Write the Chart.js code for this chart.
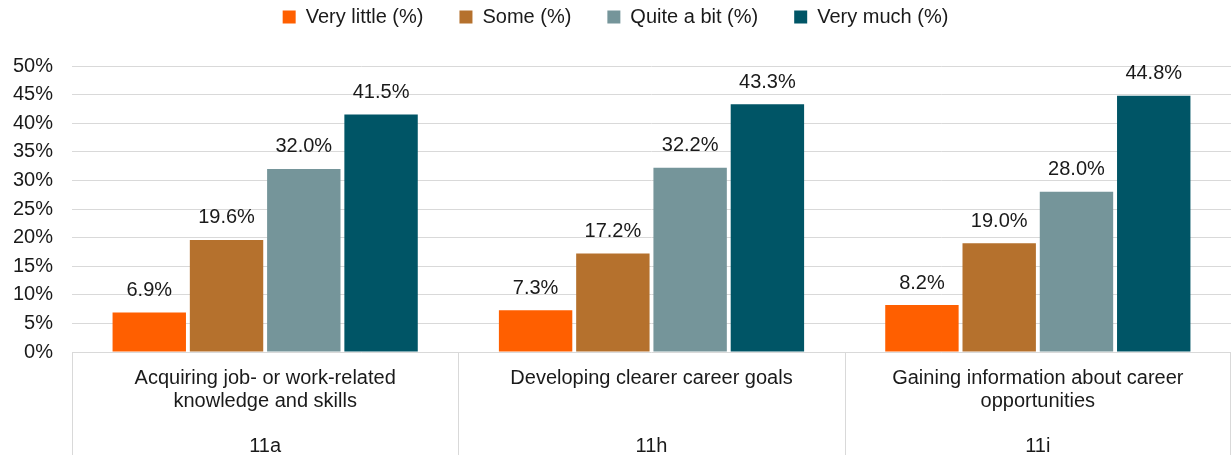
<!DOCTYPE html>
<html>
<head>
<meta charset="UTF-8">
<title>Career outcomes</title>
<script src="https://cdn.jsdelivr.net/npm/chart.js@4.4.1/dist/chart.umd.min.js"></script>
<style>
  body { margin: 0; background: #fff; }
  #wrap { width: 1231px; height: 455px; }
</style>
</head>
<body>
<div id="wrap"><canvas id="myChart"></canvas></div>

<script>
	// categories and codes under them
	const categories = [
		["Acquiring job- or work-related", "knowledge and skills"],
		["Developing clearer career goals"],
		["Gaining information about career", "opportunities"]
	];
	const codes = ["11a", "11h", "11i"];

	// series values (%)
	const veryLittle = [6.9, 7.3, 8.2];
	const some = [19.6, 17.2, 19.0];
	const quiteABit = [32.0, 32.2, 28.0];
	const veryMuch = [41.5, 43.3, 44.8];

	const seriesNames = ["Very little (%)", "Some (%)", "Quite a bit (%)", "Very much (%)"];
	const seriesColors = ["#FF5F00", "#B5712D", "#75959A", "#005566"];
	const yTicks = [0, 5, 10, 15, 20, 25, 30, 35, 40, 45, 50];

	const txt = "#1a1a1a";
	const grid = "#d9d9d9";
	Chart.defaults.font.family = "'Liberation Sans', Arial, sans-serif";
	Chart.defaults.font.size = 20;
	Chart.defaults.color = txt;

	// value labels above bars
	const barLabels = {
		id: 'barLabels',
		afterDatasetsDraw(chart) {
			const ctx = chart.ctx;
			ctx.save();
			ctx.font = "20px 'Liberation Sans', Arial, sans-serif";
			ctx.fillStyle = txt;
			ctx.textAlign = 'center';
			ctx.textBaseline = 'middle';
			chart.data.datasets.forEach((ds, i) => {
				chart.getDatasetMeta(i).data.forEach((bar, j) => {
					ctx.fillText(ds.data[j].toFixed(1) + '%', bar.x, bar.y - 22);
				});
			});
			ctx.restore();
		}
	};

	// vertical separators between category groups, below the plot
	const separators = {
		id: 'separators',
		afterDraw(chart) {
			const ctx = chart.ctx;
			const xs = chart.scales.x;
			const area = chart.chartArea;
			const pts = [area.left];
			for (let i = 1; i < categories.length; i++) {
				pts.push((xs.getPixelForValue(i - 1) + xs.getPixelForValue(i)) / 2);
			}
			pts.push(area.right - 1);
			ctx.save();
			ctx.strokeStyle = grid;
			ctx.lineWidth = 1;
			pts.forEach(p => {
				const x = Math.round(p) + 0.5;
				ctx.beginPath();
				ctx.moveTo(x, area.bottom);
				ctx.lineTo(x, chart.height);
				ctx.stroke();
			});
			ctx.restore();
		}
	};

	// keep legend item spacing wide but leave room before the plot
	const legendBox = {
		id: 'legendBox',
		afterInit(chart) {
			const fit = chart.legend.fit;
			chart.legend.fit = function () {
				fit.call(this);
				this.height = 95;
			};
		}
	};

	new Chart("myChart", {
	  type: "bar",
	  data: {
	    labels: categories,
	    datasets: [veryLittle, some, quiteABit, veryMuch].map((d, i) => ({
	      label: seriesNames[i],
	      data: d,
	      backgroundColor: seriesColors[i],
	      categoryPercentage: 0.8,
	      barPercentage: 0.95
	    }))
	  },
	  options: {
	    responsive: true,
	    maintainAspectRatio: false,
	    animation: false,
	    layout: { padding: { top: -29, left: 0, right: 0, bottom: 0 } },
	    plugins: {
	      legend: {
	        position: 'top',
	        labels: { boxWidth: 13, boxHeight: 13, padding: 36, color: txt }
	      },
	      tooltip: { enabled: false }
	    },
	    scales: {
	      x: {
	        grid: { display: false },
	        border: { display: false },
	        ticks: { padding: 7, font: { lineHeight: 1.15 }, maxRotation: 0, autoSkip: false },
	        afterFit: s => { s.height = 70; }
	      },
	      x2: {
	        type: 'category',
	        position: 'bottom',
	        weight: 1,
	        labels: codes,
	        offset: true,
	        grid: { display: false },
	        border: { display: false },
	        ticks: { padding: 5, font: { lineHeight: 1.15 } },
	        afterFit: s => { s.height = 33; }
	      },
	      y: {
	        min: 0,
	        max: 50,
	        afterBuildTicks: s => { s.ticks = yTicks.map(v => ({ value: v })); },
	        grid: { color: grid, lineWidth: 1, drawTicks: false },
	        border: { display: false },
	        ticks: { padding: 19, callback: v => v + '%' },
	        afterFit: s => { s.width = 72; }
	      }
	    }
	  },
	  plugins: [barLabels, separators, legendBox]
	});
</script>
</body>
</html>
